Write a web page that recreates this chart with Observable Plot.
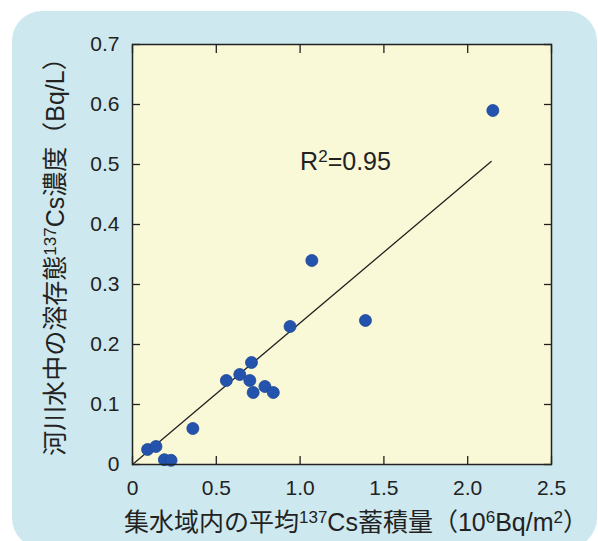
<!DOCTYPE html>
<html>
<head>
<meta charset="utf-8">
<script src="https://cdn.jsdelivr.net/npm/d3@7"></script>
<script src="https://cdn.jsdelivr.net/npm/@observablehq/plot@0.6"></script>
<style>
  html, body { margin: 0; padding: 0; background: #ffffff; }
  #wrap { position: relative; width: 598px; height: 541px; overflow: hidden; }
  #panel { position: absolute; left: 12px; top: 11px; width: 585px; height: 537px; border-radius: 30px; background: #cde8ee; }
  #chart { position: absolute; left: 0; top: 0; }
</style>
</head>
<body>
<div id="wrap"><div id="panel"></div><div id="chart"></div></div>
<script>
// ---- data ----
const xTicks = [0, 0.5, 1.0, 1.5, 2.0, 2.5];
const xTickLabels = ["0", "0.5", "1.0", "1.5", "2.0", "2.5"];
const yTicks = [0, 0.1, 0.2, 0.3, 0.4, 0.5, 0.6, 0.7];
const yTickLabels = ["0", "0.1", "0.2", "0.3", "0.4", "0.5", "0.6", "0.7"];

// average 137Cs deposition in catchment (10^6 Bq/m2)
const deposition = [0.09, 0.14, 0.19, 0.23, 0.36, 0.56, 0.64, 0.70, 0.71, 0.72, 0.79, 0.84, 0.94, 1.07, 1.39, 2.15];
// dissolved 137Cs concentration in river water (Bq/L)
const concentration = [0.025, 0.03, 0.008, 0.007, 0.06, 0.14, 0.15, 0.14, 0.17, 0.12, 0.13, 0.12, 0.23, 0.34, 0.24, 0.59];

// regression line end points
const fitX = [0, 2.14];
const fitY = [0, 0.505];

// annotation
const r2Parts = [["R", 0], ["2", 1], ["=0.95", 0]];
const r2Pos = [{x: 1.0, y: 0.505}];

// axis titles (segments; 1 = superscript)
const xLabelParts = [["集水域内の平均", 0], ["137", 1], ["Cs蓄積量（10", 0], ["6", 1], ["Bq/m", 0], ["2", 1], ["）", 0]];
const yLabelParts = [["河川水中の溶存態", 0], ["137", 1], ["Cs濃度（Bq/L）", 0]];

// ---- build ----
const plain = parts => parts.map(p => p[0]).join("");
const points = deposition.map((d, i) => ({x: d, y: concentration[i]}));
const fit = fitX.map((d, i) => ({x: d, y: fitY[i]}));

const ink = "#222222";
const font = "'Liberation Sans', Arial, 'Noto Sans CJK JP', sans-serif";

const plot = Plot.plot({
  width: 598,
  height: 541,
  marginLeft: 132,
  marginRight: 47,
  marginTop: 44,
  marginBottom: 77,
  style: {background: "transparent", fontFamily: font, color: ink, overflow: "visible"},
  x: {domain: [0, 2.5], label: null},
  y: {domain: [0, 0.7], label: null},
  marks: [
    Plot.frame({fill: "#f9f8d7", stroke: null}),
    Plot.line(fit, {x: "x", y: "y", stroke: ink, strokeWidth: 1.3}),
    Plot.dot(points, {x: "x", y: "y", r: 6, fill: "#2453ad", stroke: "#1d4697", strokeWidth: 0.8}),
    Plot.frame({stroke: ink, strokeWidth: 1.5}),
    // inward ticks on all four sides
    Plot.axisX(xTicks, {anchor: "bottom", tickSize: -8, tickFormat: () => "", label: null, strokeWidth: 1.3}),
    Plot.axisX(xTicks, {anchor: "top", tickSize: -8, tickFormat: () => "", label: null, strokeWidth: 1.3}),
    Plot.axisY(yTicks, {anchor: "left", tickSize: -8, tickFormat: () => "", label: null, strokeWidth: 1.3}),
    Plot.axisY(yTicks, {anchor: "right", tickSize: -8, tickFormat: () => "", label: null, strokeWidth: 1.3}),
    // tick labels
    Plot.axisX(xTicks, {anchor: "bottom", tickSize: 0, tickPadding: 16, fontSize: 21, fill: ink,
      tickFormat: d => xTickLabels[xTicks.indexOf(d)], label: null}),
    Plot.axisY(yTicks, {anchor: "left", tickSize: 0, tickPadding: 13, fontSize: 21, fill: ink,
      tickFormat: d => yTickLabels[yTicks.indexOf(d)], label: null}),
    // annotation
    Plot.text(r2Pos, {x: "x", y: "y", text: () => plain(r2Parts), textAnchor: "start", fontSize: 25, fill: ink}),
    // axis titles
    Plot.text([plain(xLabelParts)], {frameAnchor: "bottom", dx: 14, dy: 58, fontSize: 25, fill: ink, lineAnchor: "middle", textAnchor: "middle"}),
    Plot.text([plain(yLabelParts)], {frameAnchor: "left", dx: -77, dy: -4, rotate: -90, fontSize: 25, fill: ink, lineAnchor: "middle", textAnchor: "middle"})
  ]
});

// turn superscript segments into tspans
const supMap = new Map([[plain(r2Parts), r2Parts], [plain(xLabelParts), xLabelParts], [plain(yLabelParts), yLabelParts]]);
d3.select(plot).selectAll("text").each(function () {
  const parts = supMap.get(this.textContent);
  if (!parts) return;
  const t = d3.select(this);
  t.text(null);
  let raised = false;
  for (const [s, sup] of parts) {
    const sp = t.append("tspan").text(s);
    if (sup && !raised) { sp.attr("font-size", "0.68em").attr("dy", "-0.45em"); raised = true; }
    else if (sup) { sp.attr("font-size", "0.68em"); }
    else if (raised) { sp.attr("dy", "0.306em"); raised = false; }
  }
});

document.getElementById("chart").appendChild(plot);
</script>
</body>
</html>
